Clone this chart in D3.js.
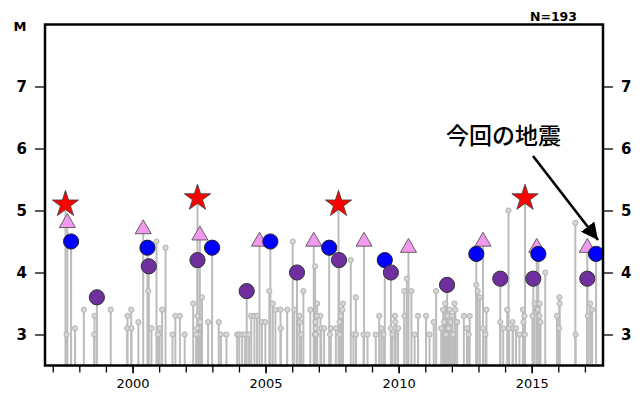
<!DOCTYPE html>
<html>
<head>
<meta charset="utf-8">
<script src="https://cdn.jsdelivr.net/npm/d3@7"></script>
<style>
  body { margin: 0; background: #fff; }
  .canvas svg { display: block; }
</style>
</head>
<body>
<div class="canvas"></div>
<script>
// ordinary events (M>=3), decimal year and magnitude
const grayYears = [
  1997.52, 1997.84, 1998.17, 1998.57, 1998.56, 1999.18, 1999.81, 1999.80, 1999.95, 1999.96,
  2000.22, 2000.59, 2000.71, 2000.90, 2000.96, 2001.02, 2001.11, 2001.24, 2001.50, 2001.61,
  2001.78, 2001.96, 2002.28, 2002.44, 2002.61, 2002.84, 2003.24, 2003.32, 2003.53, 2002.48,
  2002.50, 2002.54, 2002.39, 2002.43, 2003.93, 2004.01, 2004.12, 2004.23, 2004.38, 2004.46,
  2004.58, 2004.68, 2004.86, 2004.99, 2005.14, 2005.27, 2005.37, 2005.56, 2005.57, 2005.81,
  2006.02, 2006.08, 2006.27, 2006.29, 2006.34, 2006.42, 2006.68, 2006.86, 2006.94, 2007.06,
  2007.09, 2006.85, 2006.87, 2006.89, 2006.91, 2006.92, 2006.88, 2007.20, 2007.42, 2007.45,
  2007.64, 2007.78, 2007.83, 2007.88, 2007.91, 2007.79, 2008.20, 2008.30, 2008.39, 2008.40,
  2008.68, 2008.83, 2009.14, 2009.27, 2009.35, 2009.43, 2009.71, 2009.86, 2009.87, 2009.89,
  2009.98, 2009.77, 2010.21, 2010.22, 2010.31, 2010.48, 2010.60, 2010.73, 2011.03, 2011.16,
  2011.32, 2011.41, 2011.60, 2011.67, 2011.71, 2011.75, 2011.78, 2011.84, 2011.88, 2011.92,
  2011.95, 2012.01, 2012.05, 2012.10, 2012.13, 2012.20, 2012.45, 2012.57, 2012.67, 2012.63,
  2012.92, 2012.97, 2013.05, 2013.17, 2013.26, 2013.30, 2013.82, 2013.93, 2014.13, 2014.08,
  2014.15, 2014.28, 2014.30, 2014.41, 2014.54, 2014.67, 2014.73, 2014.69, 2014.74, 2015.03,
  2015.11, 2015.23, 2015.29, 2015.33, 2015.30, 2015.51, 2015.95, 2016.04, 2016.05, 2016.03,
  2016.64, 2016.65, 2017.11, 2017.20, 2017.27
];
const grayMags = [
  3.0, 3.1, 3.4, 3.3, 3.0, 3.4, 3.3, 3.1, 3.4, 3.1,
  3.2, 3.7, 3.1, 4.5, 3.0, 3.1, 3.4, 4.4, 3.0, 3.3,
  3.3, 3.0, 3.5, 3.3, 3.6, 3.2, 3.2, 3.0, 3.0, 3.0,
  3.1, 3.2, 3.0, 3.1, 3.0, 3.0, 3.0, 3.0, 3.0, 3.3,
  3.3, 3.3, 3.2, 3.2, 3.7, 3.5, 3.4, 3.4, 3.1, 3.4,
  4.5, 3.4, 3.3, 3.2, 3.0, 3.7, 3.4, 4.1, 3.5, 3.3,
  3.1, 3.0, 3.2, 3.1, 3.0, 3.3, 3.0, 3.1, 3.0, 3.1,
  3.1, 3.2, 3.3, 3.4, 3.5, 3.0, 4.2, 3.0, 3.6, 3.0,
  3.0, 3.0, 3.0, 3.3, 3.1, 3.0, 3.1, 3.3, 3.2, 3.1,
  3.1, 3.0, 3.7, 3.3, 3.9, 3.7, 3.0, 3.3, 3.3, 3.0,
  3.2, 3.7, 3.1, 3.4, 3.2, 3.5, 3.0, 3.3, 3.1, 3.4,
  3.2, 3.3, 3.0, 3.5, 3.4, 3.2, 3.3, 3.1, 3.3, 3.0,
  3.8, 3.7, 3.6, 3.1, 3.0, 3.4, 3.2, 3.1, 5.0, 3.4,
  3.1, 3.2, 3.1, 3.1, 3.0, 3.4, 3.3, 3.2, 3.0, 3.3,
  3.5, 3.4, 3.3, 3.2, 3.5, 4.0, 3.3, 3.6, 3.5, 3.1,
  4.8, 3.0, 3.3, 3.5, 3.4
];

// highlighted events
const starYears = [1997.48, 2002.44, 2007.74, 2014.75];
const starMags = [5.1, 5.2, 5.1, 5.2];
const triYears = [1997.55, 2000.40, 2002.53, 2004.77, 2006.81, 2008.70, 2010.37, 2013.17, 2015.19, 2017.09];
const triMags = [4.8, 4.7, 4.6, 4.5, 4.5, 4.5, 4.4, 4.5, 4.4, 4.4];
const blueYears = [1997.69, 2000.56, 2002.99, 2005.18, 2007.39, 2009.48, 2012.92, 2015.25, 2017.42];
const blueMags = [4.5, 4.4, 4.4, 4.5, 4.4, 4.2, 4.3, 4.3, 4.3];
const purpleYears = [1998.66, 2000.61, 2002.44, 2004.29, 2006.18, 2007.76, 2009.71, 2011.82, 2013.82, 2015.06, 2017.09];
const purpleMags = [3.6, 4.1, 4.2, 3.7, 4.0, 4.2, 4.0, 3.8, 3.9, 3.9, 3.9];

const magTicks = [3, 4, 5, 6, 7];
const yearTicks = d3.range(1997, 2018);
const yearLabels = [2000, 2005, 2010, 2015];

const width = 644, height = 398;
const plotLeft = 45, plotRight = 603, plotTop = 24.5, plotBottom = 365.5;

const svg = d3.select('.canvas').append('svg').attr('width', width).attr('height', height);

const x = d3.scaleLinear().domain([1996.71, 2017.68]).range([plotLeft, plotRight]);
const y = d3.scaleLinear().domain([2.5, 8]).range([plotBottom, plotTop]);

const zip = (xs, ys) => xs.map((v, i) => ({ t: v, m: ys[i] }));
const grays = zip(grayYears, grayMags);
const stars = zip(starYears, starMags);
const tris = zip(triYears, triMags);
const blues = zip(blueYears, blueMags);
const purples = zip(purpleYears, purpleMags);
const all = grays.concat(stars, tris, blues, purples);

// stems
svg.append('g')
  .selectAll('line')
  .data(all)
  .join('line')
  .attr('x1', d => x(d.t))
  .attr('x2', d => x(d.t))
  .attr('y1', plotBottom)
  .attr('y2', d => y(d.m))
  .attr('stroke', '#bcbcbc')
  .attr('stroke-width', 2);

// small heads
svg.append('g')
  .selectAll('circle')
  .data(grays)
  .join('circle')
  .attr('cx', d => x(d.t))
  .attr('cy', d => y(d.m))
  .attr('r', 2.6)
  .attr('fill', '#d6d6d6')
  .attr('stroke', '#b2b2b2')
  .attr('stroke-width', 1);

// triangles
svg.append('g')
  .selectAll('path')
  .data(tris)
  .join('path')
  .attr('d', d3.symbol().type(d3.symbolTriangle).size(112))
  .attr('transform', d => `translate(${x(d.t)},${y(d.m)})`)
  .attr('fill', '#f298ee')
  .attr('stroke', '#555')
  .attr('stroke-width', 0.9);

// blue circles
svg.append('g')
  .selectAll('circle')
  .data(blues)
  .join('circle')
  .attr('cx', d => x(d.t))
  .attr('cy', d => y(d.m))
  .attr('r', 7.6)
  .attr('fill', '#0000ff')
  .attr('stroke', '#222')
  .attr('stroke-width', 1);

// purple circles
svg.append('g')
  .selectAll('circle')
  .data(purples)
  .join('circle')
  .attr('cx', d => x(d.t))
  .attr('cy', d => y(d.m))
  .attr('r', 7.6)
  .attr('fill', '#6f2f9f')
  .attr('stroke', '#333')
  .attr('stroke-width', 1);

// stars
svg.append('g')
  .selectAll('path')
  .data(stars)
  .join('path')
  .attr('d', d3.symbol().type(d3.symbolStar).size(215))
  .attr('transform', d => `translate(${x(d.t)},${y(d.m)})`)
  .attr('fill', '#ff0000')
  .attr('stroke', '#444')
  .attr('stroke-width', 0.9);

// axes
const styleAxis = g => {
  g.select('.domain').remove();
  g.selectAll('.tick line').attr('stroke', '#000').attr('stroke-width', 1.3);
  g.selectAll('.tick text').attr('fill', '#000');
};

svg.append('g')
  .attr('transform', `translate(${plotLeft},0)`)
  .call(d3.axisLeft(y).tickValues(magTicks).tickSize(10).tickPadding(8).tickFormat(d3.format('d')))
  .call(styleAxis)
  .selectAll('text')
  .style('font-family', 'DejaVu Sans')
  .style('font-size', '15px')
  .style('font-weight', 'bold');

svg.append('g')
  .attr('transform', `translate(${plotRight},0)`)
  .call(d3.axisRight(y).tickValues(magTicks).tickSize(10).tickPadding(8).tickFormat(d3.format('d')))
  .call(styleAxis)
  .selectAll('text')
  .style('font-family', 'DejaVu Sans')
  .style('font-size', '15px')
  .style('font-weight', 'bold');

svg.append('g')
  .attr('transform', `translate(0,${plotBottom})`)
  .call(d3.axisBottom(x).tickValues(yearTicks).tickSize(7).tickFormat(''))
  .call(styleAxis);

svg.append('g')
  .attr('transform', `translate(0,${plotBottom})`)
  .call(d3.axisBottom(x).tickValues(yearLabels).tickSize(8).tickPadding(5).tickFormat(d3.format('d')))
  .call(styleAxis)
  .selectAll('text')
  .style('font-family', 'DejaVu Sans')
  .style('font-size', '13px');

// frame
svg.append('rect')
  .attr('x', plotLeft)
  .attr('y', plotTop)
  .attr('width', plotRight - plotLeft)
  .attr('height', plotBottom - plotTop)
  .attr('fill', 'none')
  .attr('stroke', '#000')
  .attr('stroke-width', 2.5);

svg.append('text')
  .attr('x', 20)
  .attr('y', 31)
  .attr('text-anchor', 'middle')
  .style('font-family', 'DejaVu Sans')
  .style('font-size', '13px')
  .style('font-weight', 'bold')
  .text('M');

svg.append('text')
  .attr('x', 577)
  .attr('y', 21)
  .attr('text-anchor', 'end')
  .style('font-family', 'DejaVu Sans')
  .style('font-size', '12.5px')
  .style('font-weight', 'bold')
  .text('N=193');

// annotation
svg.append('defs').append('marker')
  .attr('id', 'head')
  .attr('viewBox', '0 0 10 10')
  .attr('refX', 10)
  .attr('refY', 5)
  .attr('markerWidth', 6.5)
  .attr('markerHeight', 6.5)
  .attr('markerUnits', 'strokeWidth')
  .attr('orient', 'auto')
  .append('path')
  .attr('d', 'M0,0L10,5L0,10Z')
  .attr('fill', '#000');

svg.append('line')
  .attr('x1', 533)
  .attr('y1', 156)
  .attr('x2', 598)
  .attr('y2', 240)
  .attr('stroke', '#000')
  .attr('stroke-width', 2.6)
  .attr('marker-end', 'url(#head)');

svg.append('text')
  .attr('x', 446)
  .attr('y', 144)
  .style('font-family', 'Noto Sans CJK JP')
  .style('font-size', '23px')
  .style('font-weight', '500')
  .text('今回の地震');
</script>
</body>
</html>
